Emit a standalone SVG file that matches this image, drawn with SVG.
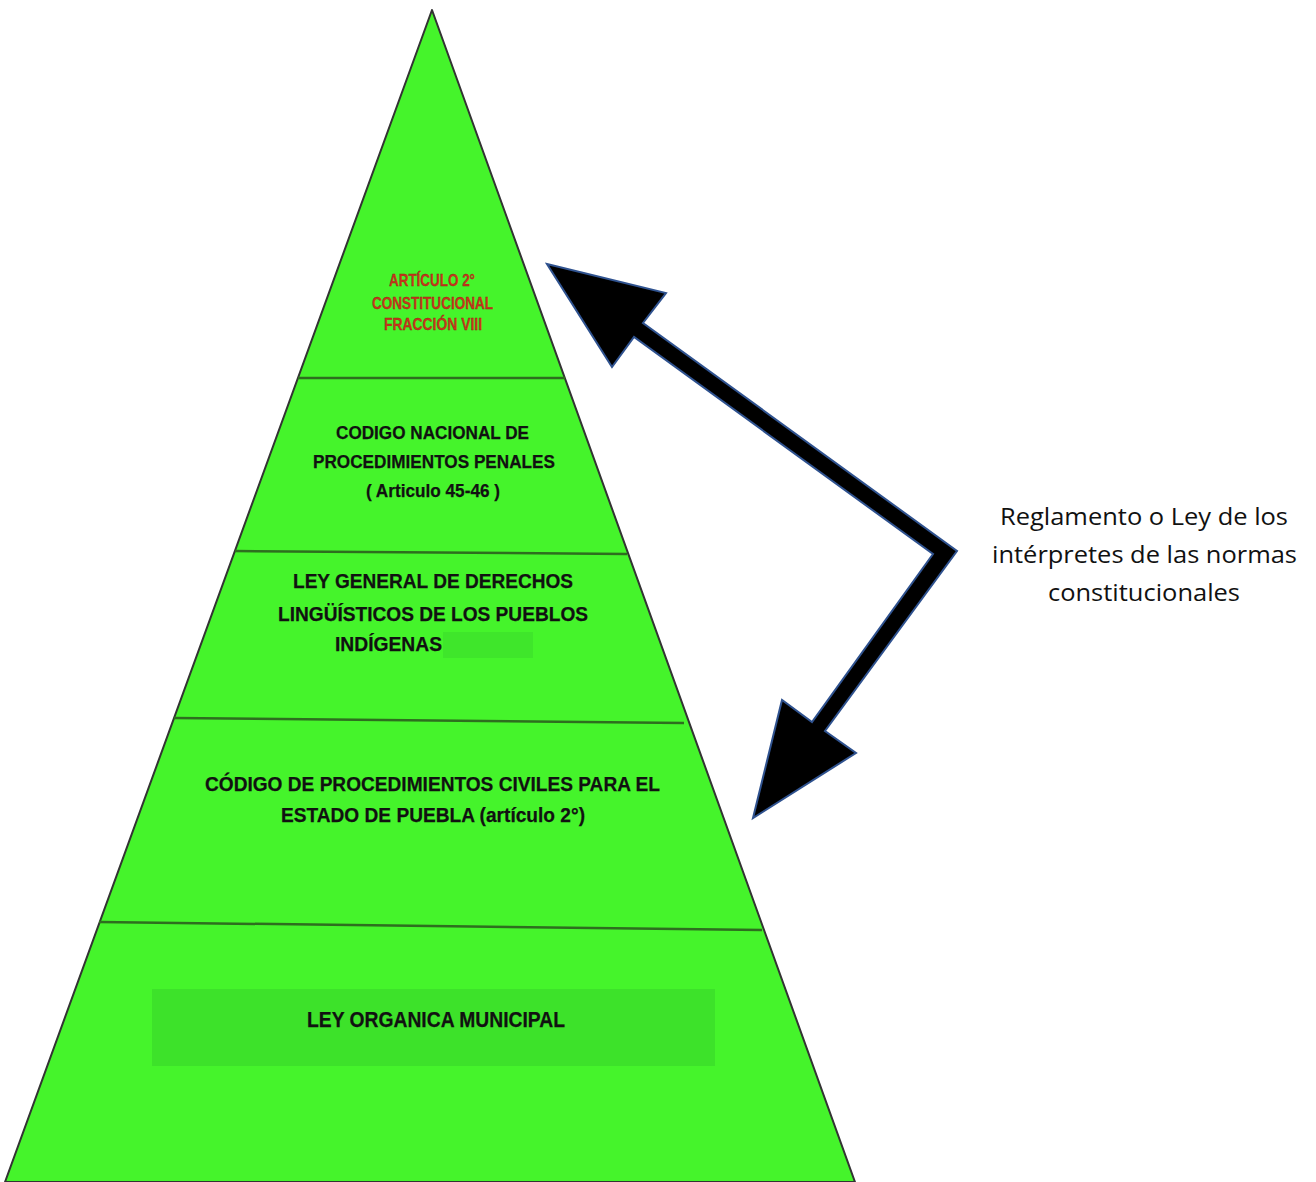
<svg xmlns="http://www.w3.org/2000/svg" width="1316" height="1182" viewBox="0 0 1316 1182">
  <style>
    .lvl { font-family: "Liberation Sans", Arial, sans-serif; font-weight: bold; fill: #111; stroke: #111; stroke-width: 0.25; }
    .s2 { font-size: 19px; }
    .s3 { font-size: 20px; }
    .s4 { font-size: 21px; }
    .s5 { font-size: 22px; }
    .red { font-family: "Liberation Sans", Arial, sans-serif; font-weight: bold; font-size: 17px; fill: #c9361c; stroke: #8a2c12; stroke-width: 0.3; }
    .side { font-family: "Open Sans", "Noto Sans", sans-serif; font-size: 23.5px; fill: #111; }
    .div { stroke: #2e6e1f; stroke-width: 2.5; fill: none; }
  </style>
  <rect width="1316" height="1182" fill="#ffffff"/>

  <g id="pyramid">
    <polygon points="432,10 5,1182 855,1182" fill="#45F42B" stroke="#333" stroke-width="2" stroke-linejoin="round"/>
    <rect x="443" y="632" width="90" height="26" fill="#3fe62b"/>
    <rect x="152" y="989" width="563" height="77" fill="#3de22a"/>
    <line class="div" x1="298" y1="378" x2="565" y2="378"/>
    <line class="div" x1="235" y1="551" x2="627" y2="554"/>
    <line class="div" x1="174" y1="718" x2="684" y2="723"/>
    <line class="div" x1="99" y1="922" x2="762" y2="930"/>
  </g>

  <g id="level1">
    <text class="red" x="389" y="286" textLength="86" lengthAdjust="spacingAndGlyphs">ARTÍCULO 2°</text>
    <text class="red" x="372" y="309" textLength="121" lengthAdjust="spacingAndGlyphs">CONSTITUCIONAL</text>
    <text class="red" x="384" y="330" textLength="98" lengthAdjust="spacingAndGlyphs">FRACCIÓN VIII</text>
  </g>

  <g id="level2">
    <text class="lvl s2" x="336" y="439" textLength="193" lengthAdjust="spacingAndGlyphs">CODIGO NACIONAL DE</text>
    <text class="lvl s2" x="313" y="468" textLength="242" lengthAdjust="spacingAndGlyphs">PROCEDIMIENTOS PENALES</text>
    <text class="lvl s2" x="366" y="497" textLength="134" lengthAdjust="spacingAndGlyphs">( Articulo 45-46 )</text>
  </g>

  <g id="level3">
    <text class="lvl s3" x="293" y="588" textLength="280" lengthAdjust="spacingAndGlyphs">LEY GENERAL DE DERECHOS</text>
    <text class="lvl s3" x="278" y="621" textLength="310" lengthAdjust="spacingAndGlyphs">LINGÜÍSTICOS DE LOS PUEBLOS</text>
    <text class="lvl s3" x="335" y="651" textLength="107" lengthAdjust="spacingAndGlyphs">INDÍGENAS</text>
  </g>

  <g id="level4">
    <text class="lvl s4" x="205" y="791" textLength="455" lengthAdjust="spacingAndGlyphs">CÓDIGO DE PROCEDIMIENTOS CIVILES PARA EL</text>
    <text class="lvl s4" x="281" y="822" textLength="304" lengthAdjust="spacingAndGlyphs">ESTADO DE PUEBLA (artículo 2°)</text>
  </g>

  <g id="level5">
    <text class="lvl s5" x="307" y="1027" textLength="258" lengthAdjust="spacingAndGlyphs">LEY ORGANICA MUNICIPAL</text>
  </g>

  <g id="connectors">
    <polygon points="547,264 666,293 643,323 957,551 825,731 856,753 753,818 782,700 812,722 933,554 634,337 612,367" fill="#000" stroke="#2F528F" stroke-width="2" stroke-linejoin="miter"/>
  </g>

  <g id="label">
    <text class="side" x="1000" y="525" textLength="288" lengthAdjust="spacingAndGlyphs">Reglamento o Ley de los</text>
    <text class="side" x="992" y="563" textLength="305" lengthAdjust="spacingAndGlyphs">intérpretes de las normas</text>
    <text class="side" x="1048" y="601" textLength="192" lengthAdjust="spacingAndGlyphs">constitucionales</text>
  </g>
</svg>
